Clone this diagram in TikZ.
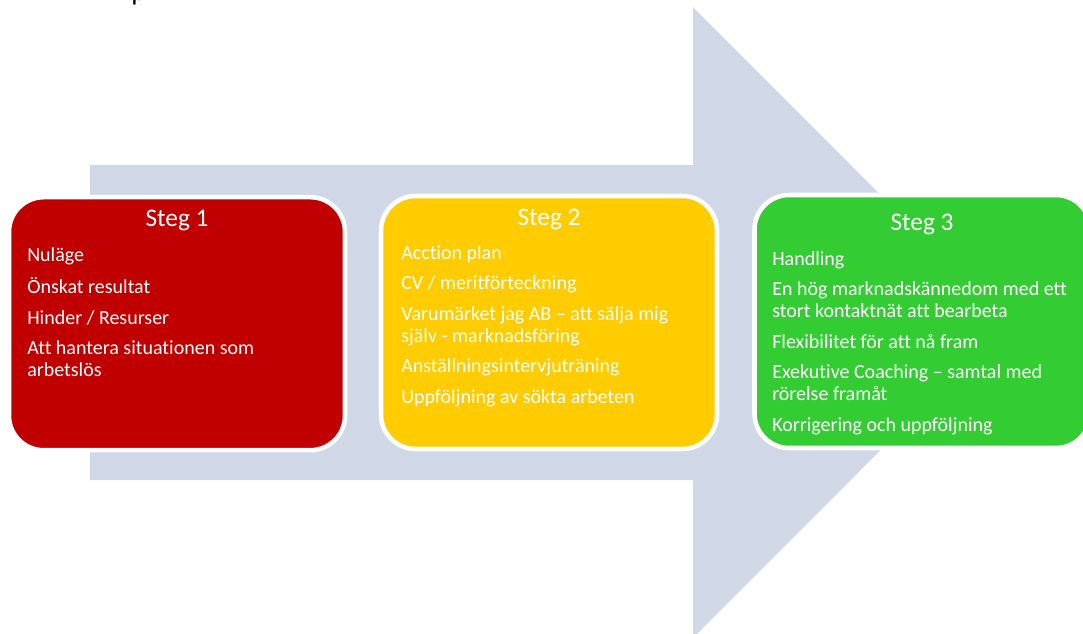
\documentclass[tikz,border=0pt]{standalone}
\usepackage{fontspec}
\setmainfont{Carlito}[Ligatures=NoCommon]

\definecolor{pilgrund}{RGB}{208,216,232}
\definecolor{stegrod}{RGB}{192,0,0}
\definecolor{steggul}{RGB}{255,204,0}
\definecolor{steggron}{RGB}{51,204,51}

\begin{document}
\begin{tikzpicture}[x=0.75pt,y=-0.75pt,
        stegbox/.style={rectangle,draw=white,line width=3.4pt,rounded corners=26pt,
                        minimum width=252pt,minimum height=189.75pt,inner sep=0pt},
        rubrik/.style={anchor=base,text=white,inner sep=0pt,font=\fontsize{19}{22}\selectfont},
        punkter/.style={anchor=north west,text=white,align=left,inner sep=0pt,
                        font=\fontsize{15}{16.5}\selectfont}]

        %\draw [help lines,step=50] (0,0) grid (1083,633);

        \useasboundingbox (0,0) rectangle (1083,633);

        \path   (131,0) node (titel) [anchor=base west,inner sep=0pt,font=\fontsize{21}{24}\selectfont] {p};

        \fill[pilgrund] (90,165) -- (693,165) -- (693,7) -- (1008,322.5)
                -- (693,638) -- (693,480) -- (90,480) -- cycle;

        \path   (177,323.7) node (steg1) [stegbox,fill=stegrod] {}
                (549,322.5) node (steg2) [stegbox,fill=steggul] {}
                (922.5,321.5) node (steg3) [stegbox,fill=steggron] {};

        \path   (177,226.7) node (rubrik1) [rubrik] {Steg 1}
                (549,225) node (rubrik2) [rubrik] {Steg 2}
                (922,230) node (rubrik3) [rubrik] {Steg 3};

        \path   (27,245.6) node (lista1) [punkter] {\strut Nuläge\\[6.4pt]
                        Önskat resultat\\[6.4pt]
                        Hinder / Resurser\\[6.4pt]
                        Att hantera situationen som\\
                        arbetslös}
                (401,243.6) node (lista2) [punkter] {\strut Acction plan\\[6.4pt]
                        CV / meritförteckning\\[6.4pt]
                        Varumärket jag AB – att sälja mig\\
                        själv - marknadsföring\\[6.4pt]
                        Anställningsintervjuträning\\[6.4pt]
                        Uppföljning av sökta arbeten}
                (772,249.6) node (lista3) [punkter] {\strut Handling\\[6.4pt]
                        En hög marknadskännedom med ett\\
                        stort kontaktnät att bearbeta\\[6.4pt]
                        Flexibilitet för att nå fram\\[6.4pt]
                        Exekutive Coaching – samtal med\\
                        rörelse framåt\\[6.4pt]
                        Korrigering och uppföljning};

\end{tikzpicture}
\end{document}
